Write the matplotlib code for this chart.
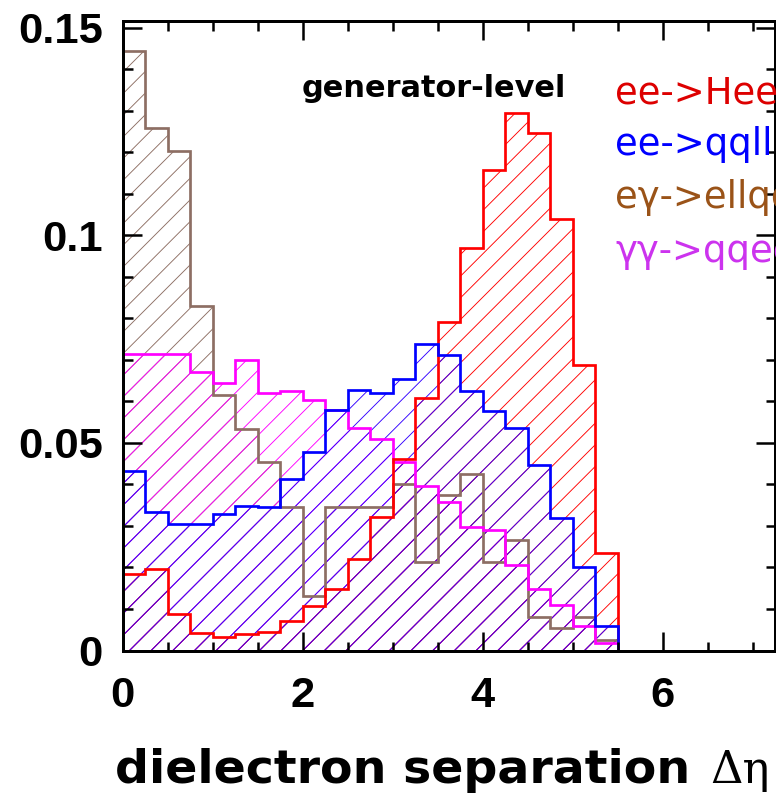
import numpy as np
import matplotlib
matplotlib.use("Agg")
import matplotlib.pyplot as plt
from matplotlib.ticker import MultipleLocator

# bin edges in delta-eta, 0.25 wide
edges = np.arange(0, 7.25 + 1e-9, 0.25)

# normalised generator-level distributions (one value per bin)
hee = [0.0183, 0.0196, 0.0087, 0.0042, 0.0033, 0.0039, 0.0045, 0.0071,
       0.0107, 0.0147, 0.0221, 0.0322, 0.0460, 0.0608, 0.0791, 0.0969,
       0.1158, 0.1295, 0.1246, 0.1040, 0.0687, 0.0235,
       0, 0, 0, 0, 0, 0, 0]
qqll = [0.0432, 0.0334, 0.0304, 0.0304, 0.0328, 0.0348, 0.0346, 0.0412,
        0.0477, 0.0579, 0.0628, 0.0621, 0.0653, 0.0737, 0.0711, 0.0625,
        0.0576, 0.0536, 0.0446, 0.0318, 0.0200, 0.0059,
        0, 0, 0, 0, 0, 0, 0]
ellqq = [0.1444, 0.1257, 0.1203, 0.0829, 0.0615, 0.0534, 0.0454, 0.0346,
         0.0132, 0.0346, 0.0346, 0.0346, 0.0400, 0.0213, 0.0374, 0.0426,
         0.0213, 0.0266, 0.0081, 0.0053, 0.0081, 0.0025,
         0, 0, 0, 0, 0, 0, 0]
qqee = [0.0715, 0.0715, 0.0715, 0.0671, 0.0645, 0.0699, 0.0621, 0.0625,
        0.0603, 0.0578, 0.0535, 0.0510, 0.0454, 0.0396, 0.0358, 0.0298,
        0.0291, 0.0206, 0.0149, 0.0109, 0.0059, 0.0018,
        0, 0, 0, 0, 0, 0, 0]

labels = ["ee->Hee", "ee->qqll", "e\u03b3->ellqq", "\u03b3\u03b3->qqee"]
text_colors = ["#dd0000", "#0000ff", "#9a5318", "#cc33ee"]

DPI = 130
W, H = 776, 804
PT = 72.0 / DPI  # points per pixel

plt.rcParams["hatch.linewidth"] = 0.5

fig = plt.figure(figsize=(W / DPI, H / DPI), dpi=DPI, facecolor="white")
ax = fig.add_axes([122.5 / W, 153.5 / H, 652.5 / W, 629.6 / H])

# hatched areas first (later ones cover the earlier hatch lines)
fills = [(ellqq, "#8d6e63"), (qqee, "#ff00ff"), (hee, "#ff0000"), (qqll, "#3300ff")]
for vals, col in fills:
    ax.stairs(vals, edges, fill=True, facecolor="none", edgecolor=col,
              linewidth=0, hatch="//")

# outlines on top
lines = [(ellqq, "#8d6e63"), (qqee, "#ff00ff"), (hee, "#ff0000"), (qqll, "#0000ff")]
for vals, col in lines:
    ax.stairs(vals, edges, color=col, linewidth=2.7 * PT)

ax.set_xlim(0, 7.25)
ax.set_ylim(0, 0.1516)

ax.set_xticks([0, 2, 4, 6])
ax.set_xticklabels(["0", "2", "4", "6"])
ax.set_yticks([0, 0.05, 0.1, 0.15])
ax.set_yticklabels(["0", "0.05", "0.1", "0.15"])
ax.xaxis.set_minor_locator(MultipleLocator(0.5))
ax.yaxis.set_minor_locator(MultipleLocator(0.01))

ax.tick_params(which="both", direction="in", top=True, right=True,
               width=2.5 * PT)
ax.tick_params(which="major", length=19 * PT)
ax.tick_params(which="minor", length=9.5 * PT)
ax.tick_params(axis="x", which="major", pad=14.3)
ax.tick_params(axis="y", which="major", pad=10.8)
for lab in ax.get_xticklabels() + ax.get_yticklabels():
    lab.set_fontfamily("Liberation Sans")
    lab.set_fontweight("bold")
    lab.set_fontsize(43.5 * PT)

for sp in ax.spines.values():
    sp.set_linewidth(3 * PT)


def fx(x):
    return x / W


def fy(y):
    return 1 - y / H


fig.text(fx(302), fy(97.3), "generator-level", family="DejaVu Sans",
         weight="bold", fontsize=30.4 * PT, va="baseline", ha="left")

baselines = [103.3, 155.0, 208.3, 261.7]
for lab, col, yb in zip(labels, text_colors, baselines):
    fig.text(fx(615), fy(yb), lab, family="DejaVu Sans", color=col,
             fontsize=37 * PT, va="baseline", ha="left")

# axis title: bold words followed by the greek symbols in serif
xl = fig.text(fx(115), fy(783.3), "dielectron separation", family="DejaVu Sans",
              weight="bold", fontsize=47.5 * PT, va="baseline", ha="left")
fig.canvas.draw()
bb = xl.get_window_extent()
fig.text((bb.x1 + 20) / W, fy(783.3), "\u0394\u03b7", family="DejaVu Serif",
         fontsize=45 * PT, va="baseline", ha="left")

fig.savefig("out.png", dpi=DPI, facecolor="white")
